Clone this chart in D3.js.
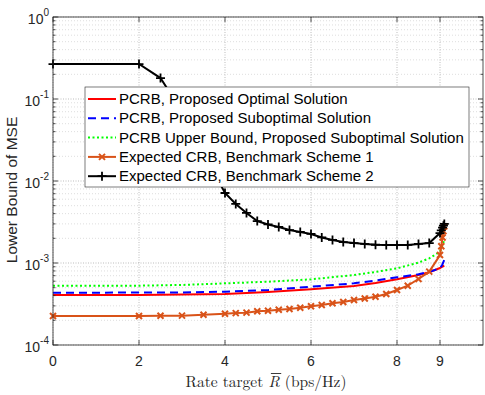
<!DOCTYPE html>
<html><head><meta charset="utf-8">
<script src="https://cdn.jsdelivr.net/npm/d3@7"></script>
<style>body{margin:0;background:#fff}</style>
</head><body>
<svg id="c" width="485" height="395"></svg>
<script>
const xTicks = [0, 2, 4, 6, 8, 9];
const yTickExps = [0, -1, -2, -3, -4];
const seriesNames = [
  "PCRB, Proposed Optimal Solution",
  "PCRB, Proposed Suboptimal Solution",
  "PCRB Upper Bound, Proposed Suboptimal Solution",
  "Expected CRB, Benchmark Scheme 1",
  "Expected CRB, Benchmark Scheme 2"
];
// rate grid for benchmark schemes (markers)
const rateB = [0, 2, 2.5, 3, 3.5, 4, 4.25, 4.5, 4.75, 5, 5.25, 5.5, 5.75, 6, 6.25, 6.5, 6.75, 7, 7.25, 7.5, 7.75, 8, 8.25, 8.5, 8.75, 9, 9.03, 9.06, 9.08, 9.1];
const bench1 = [2.26e-4, 2.26e-4, 2.27e-4, 2.28e-4, 2.34e-4, 2.41e-4, 2.45e-4, 2.48e-4, 2.58e-4, 2.62e-4, 2.69e-4, 2.75e-4, 2.85e-4, 2.97e-4, 3.08e-4, 3.23e-4, 3.34e-4, 3.54e-4, 3.69e-4, 3.88e-4, 4.19e-4, 4.69e-4, 5.29e-4, 6.38e-4, 7.84e-4, 1.25e-3, 1.6e-3, 2.05e-3, 2.45e-3, 2.8e-3];
const bench2 = [0.267, 0.267, 0.18, 0.07, 0.022, 7.14e-3, 5.25e-3, 4.08e-3, 3.25e-3, 2.95e-3, 2.75e-3, 2.52e-3, 2.39e-3, 2.26e-3, 2.05e-3, 1.91e-3, 1.80e-3, 1.75e-3, 1.71e-3, 1.67e-3, 1.66e-3, 1.66e-3, 1.66e-3, 1.71e-3, 1.75e-3, 2.32e-3, 2.5e-3, 2.7e-3, 2.85e-3, 3.0e-3];
// rate grid for proposed schemes (lines only)
const rateP = [0, 1, 2, 3, 4, 5, 6, 7, 7.5, 8, 8.5, 8.75, 9, 9.05, 9.1];
const optimal = [4.07e-4, 4.07e-4, 4.08e-4, 4.12e-4, 4.2e-4, 4.43e-4, 4.78e-4, 5.25e-4, 5.7e-4, 6.32e-4, 7.14e-4, 7.71e-4, 8.69e-4, 9.0e-4, 9.3e-4];
const subopt = [4.35e-4, 4.35e-4, 4.36e-4, 4.38e-4, 4.47e-4, 4.69e-4, 5.14e-4, 5.65e-4, 6.1e-4, 6.69e-4, 7.28e-4, 7.8e-4, 8.61e-4, 9.46e-4, 1.09e-3];
const upper = [5.29e-4, 5.29e-4, 5.29e-4, 5.4e-4, 5.65e-4, 5.91e-4, 6.32e-4, 7.14e-4, 7.77e-4, 8.61e-4, 1.01e-3, 1.14e-3, 1.37e-3, 1.61e-3, 1.91e-3];

const svg = d3.select("#c");
const L = 53, R = 483, T = 17, B = 345;
const x = d3.scaleLinear().domain([0, 10]).range([L, R]);
const y = d3.scaleLog().domain([1e-4, 1]).range([B, T]);
const axisCol = "#262626";
const font = "'Liberation Sans', Arial, sans-serif";

svg.append("rect").attr("x", L).attr("y", T).attr("width", R - L).attr("height", B - T).attr("fill", "#fff");

// minor y grid
const minorY = [];
for (let e = -4; e < 0; e++) for (let m = 2; m <= 9; m++) minorY.push(m * Math.pow(10, e));
svg.append("g").selectAll("line").data(minorY).join("line")
  .attr("x1", L).attr("x2", R).attr("y1", d => y(d)).attr("y2", d => y(d))
  .attr("stroke", "#c8c8c8").attr("stroke-width", 0.6).attr("stroke-dasharray", "1,2");
// major grid
svg.append("g").selectAll("line").data(yTickExps.map(e => Math.pow(10, e))).join("line")
  .attr("x1", L).attr("x2", R).attr("y1", d => y(d)).attr("y2", d => y(d))
  .attr("stroke", "#a0a0a0").attr("stroke-width", 0.7).attr("stroke-dasharray", "1,1.5");
svg.append("g").selectAll("line").data(xTicks).join("line")
  .attr("x1", d => x(d)).attr("x2", d => x(d)).attr("y1", T).attr("y2", B)
  .attr("stroke", "#a0a0a0").attr("stroke-width", 0.7).attr("stroke-dasharray", "1,1.5");

// series
const line = d3.line().x(d => x(d[0])).y(d => y(d[1]));
const zip = (a, b) => a.map((v, i) => [v, b[i]]);
const g = svg.append("g");
g.append("path").attr("d", line(zip(rateP, upper))).attr("fill", "none").attr("stroke", "#00ff00").attr("stroke-width", 2).attr("stroke-dasharray", "2,2.5");
g.append("path").attr("d", line(zip(rateP, optimal))).attr("fill", "none").attr("stroke", "#ff0000").attr("stroke-width", 2);
g.append("path").attr("d", line(zip(rateP, subopt))).attr("fill", "none").attr("stroke", "#0000ff").attr("stroke-width", 2).attr("stroke-dasharray", "8,5");
const orange = "#D95319";
g.append("path").attr("d", line(zip(rateB, bench1))).attr("fill", "none").attr("stroke", orange).attr("stroke-width", 2);
g.append("path").attr("d", line(zip(rateB, bench2))).attr("fill", "none").attr("stroke", "#000").attr("stroke-width", 2);
g.append("g").selectAll("path").data(zip(rateB, bench1)).join("path")
  .attr("transform", d => `translate(${x(d[0])},${y(d[1])})`)
  .attr("d", "M-3,-3L3,3M-3,3L3,-3").attr("stroke", orange).attr("stroke-width", 2).attr("fill", "none");
g.append("g").selectAll("path").data(zip(rateB, bench2)).join("path")
  .attr("transform", d => `translate(${x(d[0])},${y(d[1])})`)
  .attr("d", "M-4.5,0L4.5,0M0,-4.5L0,4.5").attr("stroke", "#000").attr("stroke-width", 1.8).attr("fill", "none");

// axes box and ticks
const ax = svg.append("g").attr("stroke", axisCol).attr("stroke-width", 0.8);
ax.append("rect").attr("x", L).attr("y", T).attr("width", R - L).attr("height", B - T).attr("fill", "none");
xTicks.forEach(t => {
  ax.append("line").attr("x1", x(t)).attr("x2", x(t)).attr("y1", B).attr("y2", B - 5);
  ax.append("line").attr("x1", x(t)).attr("x2", x(t)).attr("y1", T).attr("y2", T + 5);
});
yTickExps.forEach(e => {
  const yy = y(Math.pow(10, e));
  ax.append("line").attr("x1", L).attr("x2", L + 5).attr("y1", yy).attr("y2", yy);
  ax.append("line").attr("x1", R).attr("x2", R - 5).attr("y1", yy).attr("y2", yy);
});
minorY.forEach(d => {
  const yy = y(d);
  ax.append("line").attr("x1", L).attr("x2", L + 2.5).attr("y1", yy).attr("y2", yy);
  ax.append("line").attr("x1", R).attr("x2", R - 2.5).attr("y1", yy).attr("y2", yy);
});

// tick labels
svg.append("g").selectAll("text").data(xTicks).join("text")
  .attr("x", d => x(d)).attr("y", B + 21).attr("text-anchor", "middle")
  .attr("font-family", font).attr("font-size", 14).attr("fill", axisCol).text(d => d);
yTickExps.forEach(e => {
  const t = svg.append("text").attr("x", 49).attr("y", y(Math.pow(10, e)) + 7)
    .attr("text-anchor", "end").attr("font-family", font).attr("font-size", 14).attr("fill", axisCol);
  t.append("tspan").text("10");
  t.append("tspan").attr("dy", -8).attr("font-size", 10).text(e);
});

// axis labels
svg.append("text").attr("transform", `translate(16.5,190) rotate(-90)`)
  .attr("text-anchor", "middle").attr("font-family", font).attr("font-size", 15.5).attr("fill", axisCol)
  .text("Lower Bound of MSE");
const xl = svg.append("text").attr("x", 266).attr("y", 387).attr("text-anchor", "middle")
  .attr("font-family", "'Latin Modern Roman','Liberation Serif','DejaVu Serif',serif").attr("font-size", 15.5).attr("fill", axisCol);
xl.append("tspan").text("Rate target ");
xl.append("tspan").attr("font-style", "italic").text("R");
xl.append("tspan").text(" (bps/Hz)");
// overbar on R
{
  const n = xl.node();
  const idx = "Rate target ".length;
  const p0 = n.getStartPositionOfChar(idx), p1 = n.getEndPositionOfChar(idx);
  svg.append("line").attr("x1", p0.x + 2.5).attr("x2", p1.x + 1.5).attr("y1", 373.5).attr("y2", 373.5)
    .attr("stroke", axisCol).attr("stroke-width", 0.9);
}

// legend
const lg = svg.append("g");
lg.append("rect").attr("x", 85).attr("y", 87).attr("width", 384).attr("height", 100)
  .attr("fill", "#fff").attr("stroke", axisCol).attr("stroke-width", 0.6);
const legStyles = [
  {c: "#ff0000", dash: null, m: null},
  {c: "#0000ff", dash: "8,5", m: null},
  {c: "#00ff00", dash: "2,2.5", m: null},
  {c: orange, dash: null, m: "x"},
  {c: "#000", dash: null, m: "+"}
];
const legTexts = [];
seriesNames.forEach((name, i) => {
  const yy = 99 + i * 19.3;
  const s = legStyles[i];
  const l = lg.append("line").attr("x1", 88).attr("x2", 116).attr("y1", yy).attr("y2", yy)
    .attr("stroke", s.c).attr("stroke-width", 2);
  if (s.dash) l.attr("stroke-dasharray", s.dash);
  if (s.m === "x") lg.append("path").attr("transform", `translate(102,${yy})`).attr("d", "M-3,-3L3,3M-3,3L3,-3").attr("stroke", s.c).attr("stroke-width", 2);
  if (s.m === "+") lg.append("path").attr("transform", `translate(102,${yy})`).attr("d", "M-4.5,0L4.5,0M0,-4.5L0,4.5").attr("stroke", s.c).attr("stroke-width", 1.8);
  legTexts.push(lg.append("text").attr("x", 119).attr("y", yy + 5).attr("font-family", font).attr("font-size", 14)
    .attr("fill", "#000").text(name));
});
// fit the longest entry to the legend's width
const w = legTexts[2].node().getComputedTextLength();
const fs = Math.min(15.5, 14 * 345 / w);
legTexts.forEach(t => t.attr("font-size", fs));
</script>
</body></html>
